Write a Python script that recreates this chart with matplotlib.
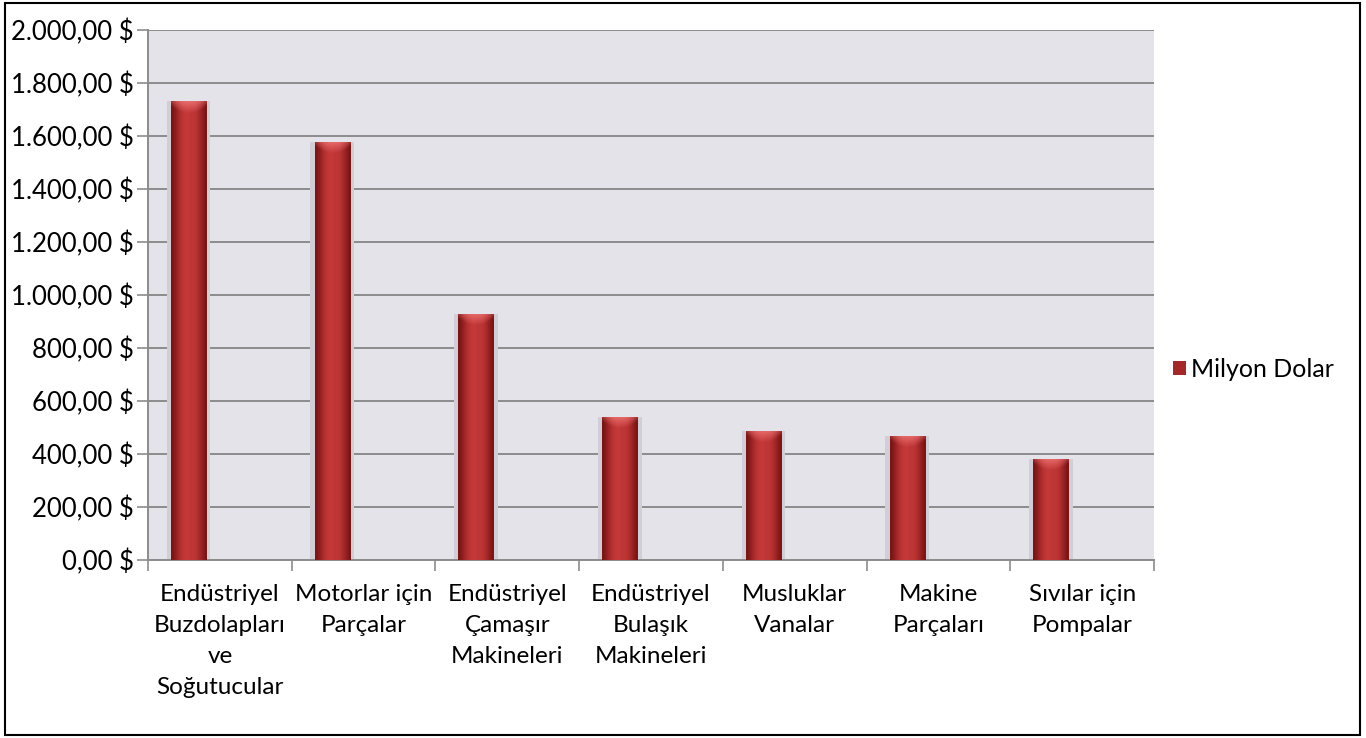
import numpy as np
import matplotlib
matplotlib.use("Agg")
import matplotlib.pyplot as plt
from matplotlib.patches import Rectangle

categories = [
    "Endüstriyel\nBuzdolapları\nve\nSoğutucular",
    "Motorlar için\nParçalar",
    "Endüstriyel\nÇamaşır\nMakineleri",
    "Endüstriyel\nBulaşık\nMakineleri",
    "Musluklar\nVanalar",
    "Makine\nParçaları",
    "Sıvılar için\nPompalar",
]
values = [1731, 1577, 928, 540, 487, 468, 381]
series_name = "Milyon Dolar"
y_ticks = [0, 200, 400, 600, 800, 1000, 1200, 1400, 1600, 1800, 2000]


def money(v):
    s = f"{v:,.2f}"
    s = s.replace(",", "X").replace(".", ",").replace("X", ".")
    return s + " $"


plt.rcParams["font.family"] = ["Lato", "DejaVu Sans"]

fig = plt.figure(figsize=(13.66, 7.38), dpi=100)
ax = fig.add_axes([148 / 1366, 1 - 560 / 738, (1154 - 148) / 1366, 530 / 738])
ax.set_facecolor("#E5E3EA")

x = np.arange(len(categories))
offset = -0.218
width = 0.244

# soft shadow behind bars
ax.bar(x + offset, values, width=width + 0.06, color="#D2CED7", zorder=2)
bars = ax.bar(x + offset, values, width=width, color="#A52828", zorder=3,
              label=series_name)

# horizontal shading across each bar
grad = np.array([0.0, 0.35, 0.7, 0.9, 1.0, 0.85, 0.9, 0.7, 0.4, 0.0])
cmap = matplotlib.colors.LinearSegmentedColormap.from_list(
    "barred", ["#7A1414", "#C83A3A"])

# light cap: pink, fading downward, strongest in the middle
nx, ny = 40, 20
cx = np.linspace(-1, 1, nx)
cy = np.linspace(0, 1, ny)[:, None]
cap_alpha = np.clip(1 - (cx[None, :] ** 2) * 0.6 - cy * 1.1, 0, 1) * 0.9
cap_img = np.zeros((ny, nx, 4))
cap_img[..., 0] = 0.93
cap_img[..., 1] = 0.45
cap_img[..., 2] = 0.45
cap_img[..., 3] = cap_alpha
cap_h = 50

for b in bars:
    x0, w, h = b.get_x(), b.get_width(), b.get_height()
    im = ax.imshow(grad[np.newaxis, :], cmap=cmap, aspect="auto",
                   extent=[x0, x0 + w, 0, h], zorder=4, interpolation="bicubic")
    im.set_clip_path(b)
    cim = ax.imshow(cap_img, aspect="auto", extent=[x0, x0 + w, h - cap_h, h],
                    zorder=5, interpolation="bilinear")
    cim.set_clip_path(b)

ax.set_xlim(-0.5, len(categories) - 0.5)
ax.set_ylim(0, 2000)
ax.set_yticks(y_ticks)
ax.set_yticklabels([money(v) for v in y_ticks])
ax.grid(axis="y", color="#8C8C8C", linewidth=1.4, zorder=1)
ax.set_axisbelow(True)

ax.set_xticks(np.arange(len(categories) + 1) - 0.5)
ax.set_xticklabels([])
ax.set_xticks(x, minor=True)
ax.set_xticklabels(categories, minor=True, fontsize=17.5, linespacing=1.6)
ax.tick_params(axis="x", which="minor", length=0, pad=17)
ax.tick_params(axis="x", which="major", length=8, width=1.2, color="#8C8C8C",
               direction="out")
ax.tick_params(axis="y", length=8, width=1.2, color="#8C8C8C", labelsize=18.5, pad=2)

for side in ["top", "right"]:
    ax.spines[side].set_visible(False)
for side in ["left", "bottom"]:
    ax.spines[side].set_color("#8C8C8C")
    ax.spines[side].set_linewidth(1.4)

ax.legend(handles=[bars], loc="center left", bbox_to_anchor=(1.019, 0.36),
          frameon=False, fontsize=18, handlelength=0.5, handleheight=0.5,
          handletextpad=0.2, borderpad=0, borderaxespad=0)

fig.patches.append(Rectangle((5 / 1366, 3 / 738), 1355 / 1366, 732 / 738,
                             transform=fig.transFigure, fill=False,
                             edgecolor="black", linewidth=1.5))

fig.savefig("out.png", dpi=100, facecolor="white")
